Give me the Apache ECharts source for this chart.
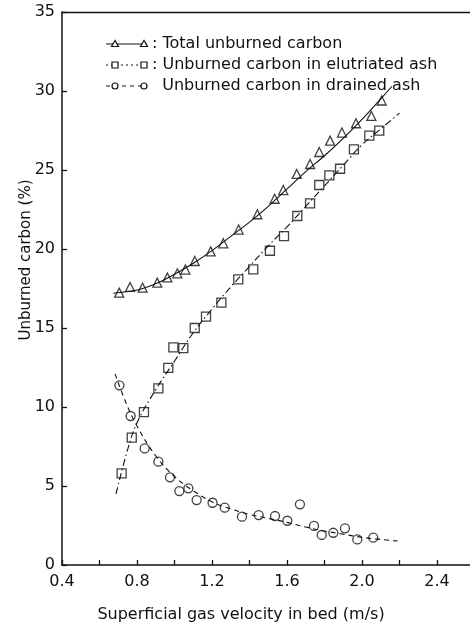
<!DOCTYPE html>
<html>
<head>
<meta charset="utf-8">
<script src="https://cdn.jsdelivr.net/npm/echarts@6/dist/echarts.min.js"></script>
<style>
  html, body { margin: 0; padding: 0; background: #fff; }
  #main { width: 470px; height: 628px; }
</style>
</head>
<body>
<div id="main"></div>
<script>
// values
var totalX = [0.705, 0.763, 0.83, 0.908, 0.962, 1.015, 1.058, 1.108, 1.193, 1.26, 1.342, 1.442, 1.534, 1.58, 1.652, 1.723, 1.772, 1.83, 1.893, 1.968, 2.05, 2.105];
var totalY = [17.24, 17.6, 17.55, 17.87, 18.2, 18.46, 18.7, 19.24, 19.85, 20.36, 21.23, 22.2, 23.18, 23.73, 24.75, 25.38, 26.14, 26.86, 27.37, 27.96, 28.42, 29.4];

var elutX = [0.718, 0.772, 0.837, 0.914, 0.967, 0.994, 1.047, 1.108, 1.168, 1.25, 1.34, 1.42, 1.509, 1.584, 1.655, 1.723, 1.772, 1.826, 1.883, 1.957, 2.039, 2.092];
var elutY = [5.8, 8.06, 9.68, 11.18, 12.47, 13.78, 13.73, 15.0, 15.72, 16.6, 18.08, 18.71, 19.89, 20.82, 22.09, 22.89, 24.05, 24.66, 25.08, 26.3, 27.17, 27.49];

var drainX = [0.706, 0.766, 0.841, 0.914, 0.976, 1.026, 1.074, 1.118, 1.203, 1.268, 1.36, 1.449, 1.536, 1.602, 1.669, 1.744, 1.785, 1.847, 1.909, 1.975, 2.06];
var drainY = [11.37, 9.43, 7.38, 6.54, 5.55, 4.68, 4.85, 4.11, 3.94, 3.63, 3.06, 3.16, 3.1, 2.8, 3.84, 2.47, 1.9, 2.04, 2.32, 1.62, 1.73];

// fitted curves
var totalFitX = [0.674, 0.8, 0.9, 1.0, 1.1, 1.2, 1.3, 1.4, 1.5, 1.6, 1.7, 1.8, 1.9, 2.0, 2.1, 2.16];
var totalFitY = [17.2, 17.4, 17.8, 18.4, 19.1, 19.9, 20.8, 21.7, 22.7, 23.8, 24.9, 25.9, 27.0, 28.2, 29.5, 30.3];

var elutFitX = [0.688, 0.75, 0.8, 0.9, 1.0, 1.1, 1.2, 1.3, 1.4, 1.5, 1.6, 1.7, 1.8, 1.9, 2.0, 2.1, 2.2];
var elutFitY = [4.5, 7.3, 9.0, 11.1, 12.9, 14.7, 16.2, 17.6, 18.9, 20.2, 21.4, 22.7, 24.0, 25.3, 26.6, 27.6, 28.6];

var drainFitX = [0.683, 0.74, 0.8, 0.9, 1.0, 1.1, 1.2, 1.3, 1.4, 1.5, 1.6, 1.7, 1.8, 1.9, 2.0, 2.1, 2.19];
var drainFitY = [12.1, 10.3, 8.8, 6.9, 5.6, 4.7, 4.0, 3.55, 3.2, 2.95, 2.7, 2.4, 2.15, 1.95, 1.75, 1.62, 1.52];

var legendNames = ['Total unburned carbon', 'Unburned carbon in elutriated ash', 'Unburned carbon in drained ash'];

function zip(xs, ys) {
  return xs.map(function (x, i) { return [x, ys[i]]; });
}

var ink = '#111';
var font = 'DejaVu Sans';

var chart = echarts.init(document.getElementById('main'));

// hand-drawn legend: line + two small markers + label
function legendRow(y, dash, shape, label) {
  var kids = [{
    type: 'line', shape: { x1: 106, y1: y, x2: 147, y2: y },
    style: { stroke: ink, lineWidth: 1.1, lineDash: dash }
  }];
  [115, 144].forEach(function (cx) {
    if (shape === 'tri') {
      kids.push({ type: 'polygon', shape: { points: [[cx, y - 3.5], [cx - 3.5, y + 2.5], [cx + 3.5, y + 2.5]] },
        style: { fill: '#fff', stroke: ink, lineWidth: 1.2 } });
    } else if (shape === 'rect') {
      kids.push({ type: 'rect', shape: { x: cx - 3, y: y - 3, width: 6, height: 6 },
        style: { fill: '#fff', stroke: ink, lineWidth: 1.2 } });
    } else {
      kids.push({ type: 'circle', shape: { cx: cx, cy: y, r: 3 },
        style: { fill: '#fff', stroke: ink, lineWidth: 1.2 } });
    }
  });
  kids.push({
    type: 'text', x: 152, y: y,
    style: { text: label, fill: ink, font: '16px "' + font + '"', verticalAlign: 'middle' }
  });
  return { type: 'group', children: kids };
}

var option = {
  backgroundColor: '#fff',
  animation: false,
  grid: { left: 62, right: 0, top: 12, bottom: 63 },
  xAxis: [{
    type: 'value', min: 0.4, max: 2.576, interval: 0.2,
    axisLine: { lineStyle: { color: ink, width: 1.5 } },
    axisTick: { inside: true, length: 5, lineStyle: { color: ink, width: 1.3 } },
    axisLabel: {
      color: ink, fontSize: 16, fontFamily: font, margin: 9, showMaxLabel: false,
      formatter: function (v) {
        return Math.round(v * 10) % 4 === 0 ? v.toFixed(1) : '';
      }
    },
    splitLine: { show: false },
    name: 'Superficial gas velocity in bed (m/s)',
    nameLocation: 'middle', nameGap: 42,
    nameTextStyle: { color: ink, fontSize: 16, fontFamily: font, padding: [0, 50, 0, 0] }
  }, {
    type: 'value', position: 'top', min: 0.4, max: 2.576,
    axisLine: { show: true, lineStyle: { color: ink, width: 1.3 } },
    axisTick: { show: false }, axisLabel: { show: false }, splitLine: { show: false }
  }],
  yAxis: {
    type: 'value', min: 0, max: 35, interval: 5,
    axisLine: { lineStyle: { color: ink, width: 1.5 } },
    axisTick: { inside: true, length: 5, lineStyle: { color: ink, width: 1.3 } },
    axisLabel: { color: ink, fontSize: 16, fontFamily: font, margin: 7 },
    splitLine: { show: false }
  },
  graphic: [
    {
      type: 'text', x: 26, y: 260, rotation: Math.PI / 2,
      style: { text: 'Unburned carbon (%)', fill: ink, font: '15px "' + font + '"', align: 'center', verticalAlign: 'middle' }
    },
    legendRow(44, null, 'tri', ': ' + legendNames[0]),
    legendRow(65, [2, 3], 'rect', ': ' + legendNames[1]),
    legendRow(86, [4, 4], 'circle', '  ' + legendNames[2])
  ],
  series: [
    {
      type: 'line', data: zip(totalFitX, totalFitY), smooth: 0.4, showSymbol: false,
      lineStyle: { color: ink, width: 1.1 }, silent: true
    },
    {
      type: 'line', data: zip(elutFitX, elutFitY), smooth: 0.4, showSymbol: false,
      lineStyle: { color: ink, width: 1.1, type: [7, 3, 1.5, 3] }, silent: true
    },
    {
      type: 'line', data: zip(drainFitX, drainFitY), smooth: 0.4, showSymbol: false,
      lineStyle: { color: ink, width: 1.1, type: [5, 4] }, silent: true
    },
    {
      name: legendNames[0], type: 'scatter', data: zip(totalX, totalY),
      symbol: 'triangle', symbolSize: 9,
      itemStyle: { color: '#fff', borderColor: ink, borderWidth: 1.3 }
    },
    {
      name: legendNames[1], type: 'scatter', data: zip(elutX, elutY),
      symbol: 'rect', symbolSize: 9,
      itemStyle: { color: '#fff', borderColor: ink, borderWidth: 1.3 }
    },
    {
      name: legendNames[2], type: 'scatter', data: zip(drainX, drainY),
      symbol: 'circle', symbolSize: 9,
      itemStyle: { color: '#fff', borderColor: ink, borderWidth: 1.3 }
    }
  ]
};

chart.setOption(option);
</script>
</body>
</html>
